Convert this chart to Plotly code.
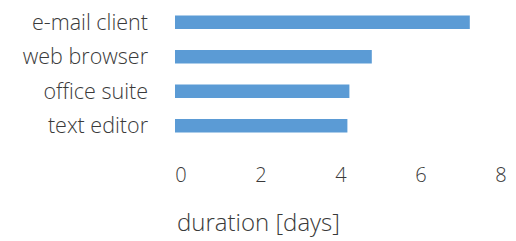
import plotly.graph_objects as go

categories = ["e-mail client", "web browser", "office suite", "text editor"]
durations = [7.37, 4.92, 4.36, 4.31]
tick_vals = [0, 2, 4, 6, 8]
tick_text = ["0", "2", "4", "6", "8"]
x_title = "duration [days]"

font_family = "Open Sans"
text_color = "#3a3a3a"

fig = go.Figure(go.Bar(
    x=durations, y=categories, orientation="h",
    marker=dict(color="#5b9bd5", line=dict(width=0)),
    width=0.39, hoverinfo="skip",
))

fig.update_layout(
    width=516, height=241,
    margin=dict(l=175, r=21, t=5, b=98),
    plot_bgcolor="white", paper_bgcolor="white",
    showlegend=False,
    font=dict(family=font_family, color=text_color, size=19, weight=300),
)
fig.update_xaxes(
    range=[0, 8], tickvals=tick_vals, ticktext=tick_text,
    showgrid=False, zeroline=False, showline=False, ticks="",
    tickfont=dict(size=20, weight=300), ticklabelstandoff=18, ticklabelshift=6,
    automargin=False,
)
fig.update_yaxes(
    categoryorder="array", categoryarray=categories[::-1],
    range=[-0.5, 3.5],
    showgrid=False, zeroline=False, showline=False, ticks="",
    tickfont=dict(size=21.5, weight=300), ticklabelstandoff=26,
    automargin=False,
)
fig.add_annotation(
    text=x_title, xref="paper", yref="paper", x=0, y=0,
    xanchor="left", yanchor="top", yshift=-60, showarrow=False,
    font=dict(size=24, family=font_family, color=text_color, weight=300),
)
fig.write_html("out.html", config={"displayModeBar": False},
               post_script="document.body.style.margin='0';")
